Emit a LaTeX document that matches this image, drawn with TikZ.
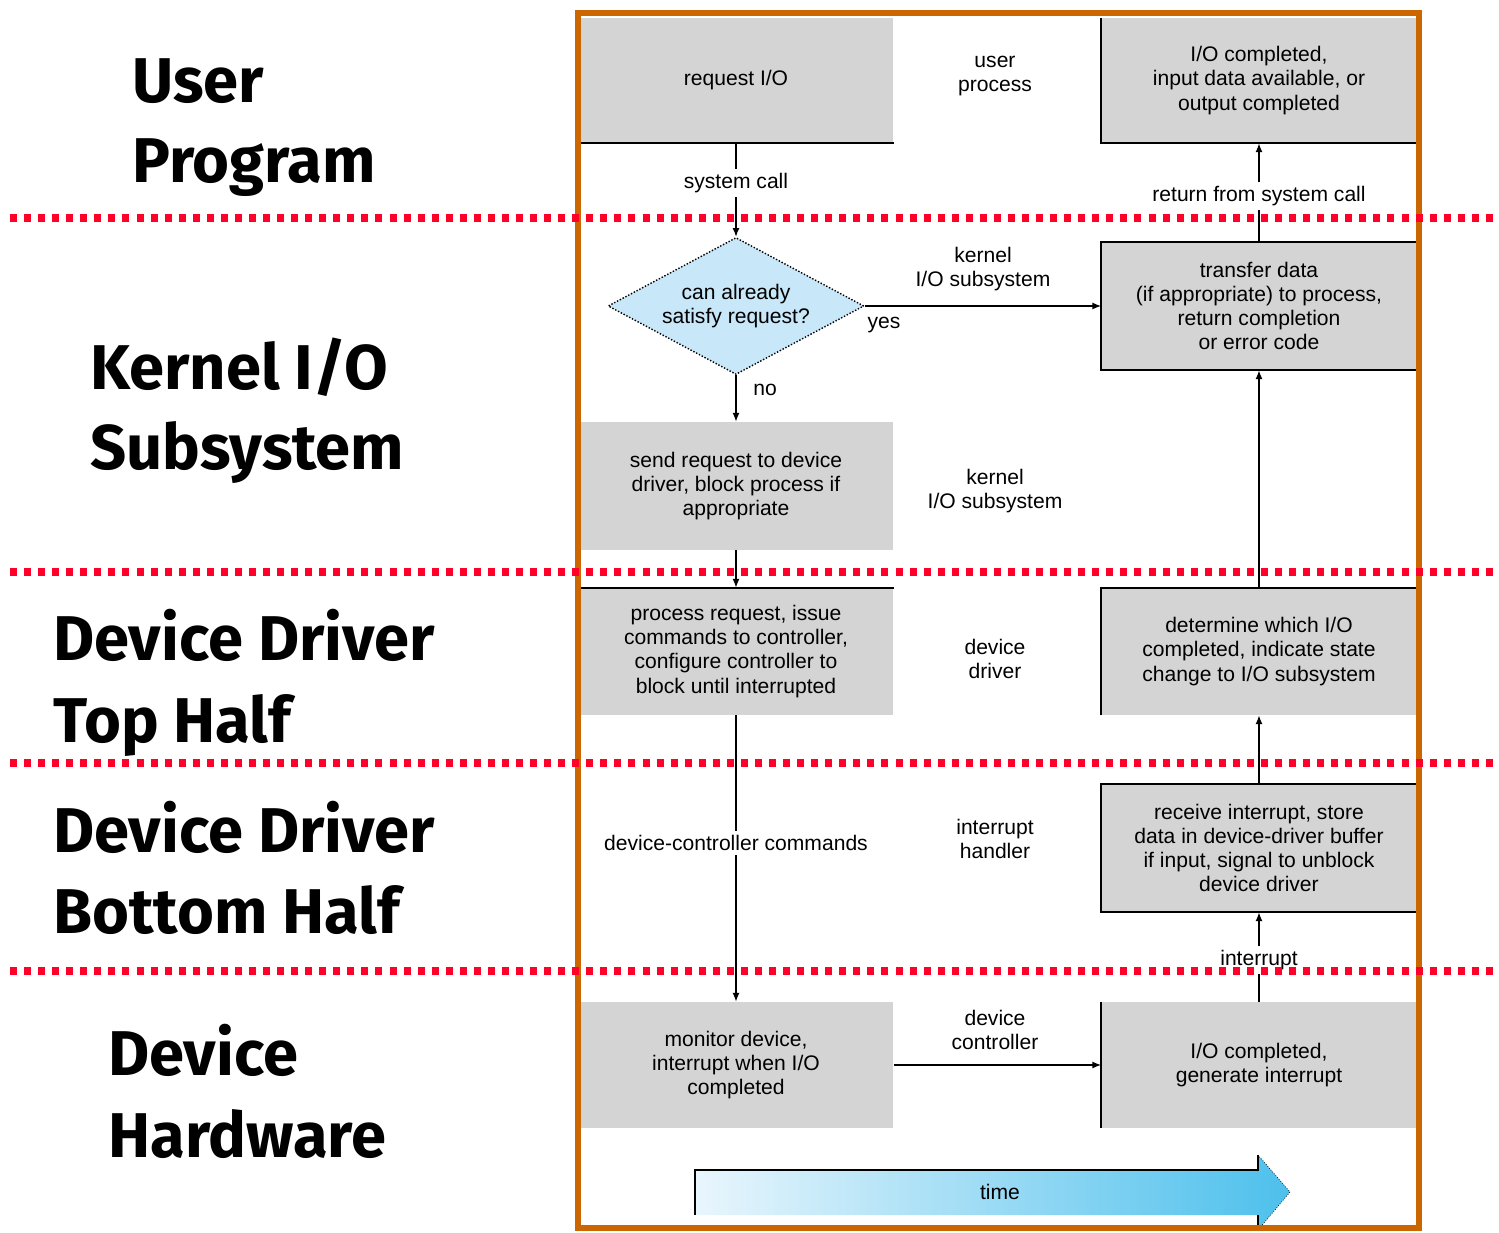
\documentclass[tikz,border=0pt]{standalone}
\usepackage{fontspec}
\setmainfont{Liberation Sans}
\newfontfamily\sidefont{Fira Sans}
\usepackage{xcolor}
\usetikzlibrary{shapes.geometric,arrows.meta,positioning,calc}

\definecolor{frameorange}{RGB}{204,102,0}
\definecolor{levelred}{RGB}{255,0,40}
\definecolor{boxgray}{RGB}{212,212,212}
\definecolor{askblue}{RGB}{200,232,250}
\definecolor{timeblue}{RGB}{77,192,236}

\tikzset{
    stepbox/.style={fill=boxgray, minimum width=6.3cm, minimum height=2.52cm, inner sep=0pt, align=center, font=\fontsize{12}{13.7}\selectfont},
    ask/.style={diamond, fill=askblue, draw, densely dotted, thick, aspect=1.9, inner sep=0pt, minimum width=5.12cm, minimum height=2.74cm, align=center, font=\fontsize{12}{13.7}\selectfont},
    layer/.style={align=center, font=\fontsize{12}{13.7}\selectfont},
    edgetext/.style={inner sep=2pt, font=\fontsize{12}{13.7}\selectfont},
    side/.style={anchor=base west, inner sep=0pt, font=\sidefont\bfseries\fontsize{36}{43}\selectfont},
    flow/.style={-{Latex[length=5pt,width=4pt]}, thick},
    boxline/.style={line width=1.3pt},
    level/.style={levelred, line width=4pt, dash pattern=on 4pt off 4pt}
}

\begin{document}
\begin{tikzpicture}[x=0.02cm, y=-0.02cm]
    \useasboundingbox (0,0) rectangle (1499,1233);

    % Left column: layers
    \node[side] (user) at (132,103) {User};
    \node[side] (prog) at (132,183) {Program};
    \node[side] (kern) at (90,390) {Kernel I/O};
    \node[side] (ksub) at (90,470) {Subsystem};
    \node[side] (ddtop) at (53,660) {Device Driver};
    \node[side] (tophalf) at (53,742) {Top Half};
    \node[side] (ddbot) at (53,852) {Device Driver};
    \node[side] (bothalf) at (53,933) {Bottom Half};
    \node[side] (dev) at (108,1075) {Device};
    \node[side] (hw) at (108,1157) {Hardware};

    % Left chain of steps
    \node[stepbox, minimum height=2.5cm] (req) at (736,80.5) {request I/O};
    \node[ask] (can) at (736,306) {can already\\satisfy request?};
    \node[stepbox, minimum height=2.56cm] (send) at (736,486) {send request to device\\driver, block process if\\appropriate};
    \node[stepbox, minimum height=2.54cm] (proc) at (736,651.5) {process request, issue\\commands to controller,\\configure controller to\\block until interrupted};
    \node[stepbox] (mon) at (736,1065) {monitor device,\\interrupt when I/O\\completed};

    % Right chain of steps
    \node[stepbox, minimum height=2.5cm] (done) at (1259,80.5) {I/O completed,\\input data available, or\\output completed};
    \node[stepbox, minimum height=2.56cm] (xfer) at (1259,306) {transfer data\\(if appropriate) to process,\\return completion\\or error code};
    \node[stepbox, minimum height=2.54cm] (which) at (1259,651.5) {determine which I/O\\completed, indicate state\\change to I/O subsystem};
    \node[stepbox, minimum height=2.56cm] (recv) at (1259,848) {receive interrupt, store\\data in device-driver buffer\\if input, signal to unblock\\device driver};
    \node[stepbox] (gen) at (1259,1065) {I/O completed,\\generate interrupt};

    % box edges
    \draw[boxline] (req.south west) -- (req.south east);
    \draw[boxline] (done.north west) -- (done.south west) -- (done.south east);
    \draw[boxline] (xfer.south east) -- (xfer.south west) -- (xfer.north west) -- (xfer.north east);
    \draw[boxline] (proc.north west) -- (proc.north east);
    \draw[boxline] (which.south west) -- (which.north west) -- (which.north east);
    \draw[boxline] (recv.south west) rectangle (recv.north east);
    \draw[boxline] (gen.north west) -- (gen.south west);

    % middle column
    \node[layer] (uproc) at (995,76) {user\\process};
    \node[layer] (kio1) at (983,269) {kernel\\I/O subsystem};
    \node[layer] (kio2) at (995,491) {kernel\\I/O subsystem};
    \node[layer] (ddrv) at (995,659) {device\\driver};
    \node[layer] (ihdl) at (995,839) {interrupt\\handler};
    \node[layer] (dctl) at (995,1030) {device\\controller};

    % connector labels
    \node[edgetext] (syscall) at (736,183) {system call};
    \node[layer] (yes) at (884,325) {yes};
    \node[layer] (no) at (765,390) {no};
    \node[edgetext] (dcc) at (736,843) {device-controller commands};
    \node[edgetext] (intr) at (1259,960) {interrupt};
    \node[edgetext] (ret) at (1259,196) {return from system call};

    % connectors
    \draw[thick] (req.south) -- (syscall.north);
    \draw[flow] (syscall.south) -- (can.north);
    \draw[flow] (can.east) -- (xfer.west);
    \draw[flow] (can.south) -- (send.north);
    \draw[flow] (send.south) -- (proc.north);
    \draw[thick] (proc.south) -- (dcc.north);
    \draw[flow] (dcc.south) -- (mon.north);
    \draw[flow] (mon.east) -- (gen.west);
    \draw[thick] (gen.north) -- (intr.south);
    \draw[flow] (intr.north) -- (recv.south);
    \draw[flow] (recv.north) -- (which.south);
    \draw[flow] (which.north) -- (xfer.south);
    \draw[thick] (xfer.north) -- (ret.south);
    \draw[flow] (ret.north) -- (done.south);

    % time arrow
    \shade[left color=askblue!40, right color=timeblue]
        (695,1170) -- (1258,1170) -- (1258,1155) -- (1290,1192) -- (1258,1230) -- (1258,1215) -- (695,1215) -- cycle;
    \draw[thick] (695,1215) -- (695,1170) -- (1258,1170) -- (1258,1155);
    \draw[densely dotted] (1258,1155) -- (1290,1192) -- (1258,1230);
    \draw[thick] (1258,1230) -- (1258,1215);
    \node[layer] (time) at (1000,1192) {time};

    % frame
    \draw[frameorange, line width=3.4pt] (578,13) rectangle (1419,1228);

    % level separators
    \foreach \y in {218,572,763,971}
        \draw[level] (10,\y) -- (1495,\y);
\end{tikzpicture}
\end{document}
